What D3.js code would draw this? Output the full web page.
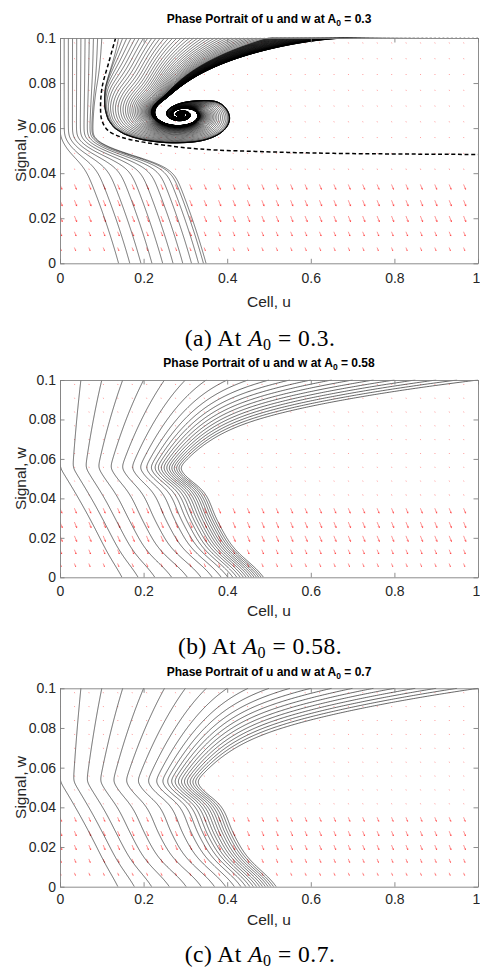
<!DOCTYPE html>
<html>
<head>
<meta charset="utf-8">
<script src="https://cdn.jsdelivr.net/npm/d3@7"></script>
<style>
  html, body { margin: 0; padding: 0; background: #fff; }
  svg { display: block; }
</style>
</head>
<body>
<svg id="fig" width="480" height="972"></svg>
<script>
// ---------------- data ----------------
const a0Values = [0.3, 0.58, 0.7];
const panelLetters = ["a", "b", "c"];
const uTicks = [0, 0.2, 0.4, 0.6, 0.8, 1];
const wTicks = [0, 0.02, 0.04, 0.06, 0.08, 0.1];

// initial cell values on the top edge (w = 0.1)
const startUa = [0, 0.01, 0.02, 0.03, 0.04, 0.05, 0.06, 0.07, 0.08, 0.09, 0.10,
  0.14, 0.15, 0.16, 0.17, 0.18, 0.19, 0.20, 0.21, 0.22, 0.23, 0.24, 0.25, 0.26, 0.27, 0.28, 0.29,
  0.30, 0.31, 0.32, 0.33, 0.34, 0.35, 0.36, 0.37, 0.38, 0.39, 0.40, 0.41, 0.42, 0.43, 0.44, 0.45,
  0.46, 0.47, 0.48, 0.49, 0.50, 0.51, 0.52, 0.53, 0.54, 0.55, 0.56, 0.57, 0.58, 0.59, 0.60, 0.61,
  0.62, 0.63, 0.64, 0.65, 0.66, 0.67, 0.68, 0.69, 0.70, 0.71, 0.72, 0.73, 0.74, 0.75, 0.76, 0.77,
  0.78, 0.79, 0.80, 0.81, 0.82, 0.83, 0.84, 0.85, 0.86, 0.87, 0.88, 0.89, 0.90, 0.91, 0.92, 0.93,
  0.94, 0.95, 0.96, 0.97, 0.98, 0.99, 1.00];
const startUbc = [0, 0.05, 0.10, 0.15, 0.20, 0.25, 0.30, 0.35, 0.40, 0.45, 0.50,
  0.55, 0.60, 0.65, 0.70, 0.75, 0.80, 0.85, 0.90, 0.95, 1.00];

// separatrix of the A0 = 0.3 portrait (dashed)
const sepU = [0.133, 0.116, 0.101, 0.097, 0.100, 0.114, 0.145, 0.195, 0.251, 0.335, 0.494, 0.654, 1.000];
const sepW = [0.1000, 0.0887, 0.0784, 0.0695, 0.0636, 0.0591, 0.0561, 0.0539, 0.0524, 0.0507, 0.0495, 0.0488, 0.0483];

// direction-field grid
const quiverU = [0, 0.0345, 0.0690, 0.1034, 0.1379, 0.1724, 0.2069, 0.2414, 0.2759, 0.3103,
  0.3448, 0.3793, 0.4138, 0.4483, 0.4828, 0.5172, 0.5517, 0.5862, 0.6207, 0.6552, 0.6897,
  0.7241, 0.7586, 0.7931, 0.8276, 0.8621, 0.8966, 0.9310, 0.9655];
const quiverW = [0.007, 0.014, 0.021, 0.028, 0.035, 0.042, 0.049, 0.056, 0.063, 0.070, 0.077, 0.084, 0.091, 0.098];
// drawn arrow components for each grid row
const arrowDuA = [0.0029, 0.0041, 0.0055, 0.0055, 0.0048, 0.0010, 0.0007, 0.0007, 0.0007, 0.0007, 0.0007, 0.0007, 0.0007, 0.0007];
const arrowDwA = [-0.0014, -0.0019, -0.0026, -0.0026, -0.0022, -0.0005, -0.00033, -0.00033, -0.00033, -0.00033, -0.00033, -0.00033, -0.00033, -0.00033];
const arrowDuB = [0.0029, 0.0041, 0.0055, 0.0055, 0.0048, 0.0010, 0.0007, 0.0007, 0.0007, 0.0007, 0.0007, 0.0007, 0.0007, 0.0007];
const arrowDwB = [-0.0016, -0.0022, -0.0029, -0.0029, -0.0025, -0.00057, -0.00038, -0.00038, -0.00038, -0.00038, -0.00038, -0.00038, -0.00038, -0.00038];
const arrowDuC = [0.0024, 0.0033, 0.0045, 0.0045, 0.0039, 0.0009, 0.0006, 0.0006, 0.0006, 0.0006, 0.0006, 0.0006, 0.0006, 0.0006];
const arrowDwC = [-0.0013, -0.0018, -0.0024, -0.0024, -0.0021, -0.00047, -0.00033, -0.00033, -0.00033, -0.00033, -0.00033, -0.00033, -0.00033, -0.00033];

// ---------------- layout ----------------
const layouts = [
  { left: 60, right: 478, top: 38, bottom: 263.3, titleDy: -15.4, tickPad: 10.1, xLabelDy: 43.8, capY: 345.5 },
  { left: 60, right: 478, top: 380, bottom: 577.3, titleDy: -13, tickPad: 8.5, xLabelDy: 38.8, capY: 653.9 },
  { left: 60, right: 478, top: 688.3, bottom: 886.7, titleDy: -12.3, tickPad: 7.7, xLabelDy: 38.7, capY: 962.2 }
];
const SANS = "'Liberation Sans', Arial, Helvetica, sans-serif";
const SERIF = "'Liberation Serif', 'Times New Roman', serif";

// ---------------- model helpers (X = u, Y = w / 0.1) ----------------
const gauss = (v, c, s) => Math.exp(-((v - c) / s) * ((v - c) / s));
const sigm = (v) => 1 / (1 + Math.exp(-v));
const unit = (v) => { const n = Math.hypot(v[0], v[1]) || 1e-12; return [v[0] / n, v[1] / n]; };
const smoothstep = (v, a, b) => { const t = Math.min(1, Math.max(0, (v - a) / (b - a))); return t * t * (3 - 2 * t); };

// --- A0 = 0.3: spiral sink bounded by the separatrix ---
const FOCUS = [0.29, 0.66];
const sepPoly = (() => {
  const pts = sepU.map((u, k) => [u, sepW[k] / 0.1]);
  const n = pts.length;
  const head = [pts[0][0] + (pts[0][0] - pts[1][0]) * 3, pts[0][1] + (pts[0][1] - pts[1][1]) * 3];
  const tail = [pts[n - 1][0] + (pts[n - 1][0] - pts[n - 2][0]) * 3, pts[n - 1][1] + (pts[n - 1][1] - pts[n - 2][1]) * 3];
  return [head, ...pts, tail];
})();
function sepDist(X, Y) {
  let best = Infinity, sgn = 1, tx = 0, ty = -1;
  for (let k = 0; k < sepPoly.length - 1; k++) {
    const ax = sepPoly[k][0], ay = sepPoly[k][1];
    const bx = sepPoly[k + 1][0], by = sepPoly[k + 1][1];
    const ex = bx - ax, ey = by - ay;
    const len2 = ex * ex + ey * ey;
    let t = ((X - ax) * ex + (Y - ay) * ey) / len2;
    t = Math.max(0, Math.min(1, t));
    const qx = ax + t * ex, qy = ay + t * ey;
    const dd = Math.hypot(X - qx, Y - qy);
    if (dd < best) {
      best = dd;
      const l = Math.sqrt(len2);
      tx = ex / l; ty = ey / l;
      sgn = (tx * (Y - qy) - ty * (X - qx)) >= 0 ? 1 : -1;
    }
  }
  return { d: sgn * best, tx, ty };
}
// inward pull relative to counter-clockwise turning, by direction from the focus
function spiralDir(X, Y) {
  const dx = X - FOCUS[0], dy = Y - FOCUS[1];
  const r = Math.hypot(dx, dy) || 1e-9;
  let th = Math.atan2(dy, dx) * 180 / Math.PI;
  if (th < -90) th += 360;
  const sat = 1 - Math.exp(-(r / 0.1) * (r / 0.1));
  const top = 1.6 * sigm((th - 37) / 4) * sigm((118 - th) / 9);
  const lowRight = 0.2 * gauss(th, 300, 45);
  const kap = 0.15 + (top + lowRight) * sat;
  const c = dx / r, s = dy / r;
  return [-s - kap * c, c - kap * s];
}
function downDirA(X, Y) {
  const t = sigm((Y - 0.565) / 0.012);
  const q = X / 0.13;
  const sUp = -0.05 * q * q * q;
  const sLo = 0.15 + 0.18 * Y + 9 * X * gauss(Y, 0.5, 0.07);
  return [t * sUp + (1 - t) * sLo, -1];
}
function fieldA(X, Y) {
  const sd = sepDist(X, Y);
  const wIn = sigm(sd.d / 0.005);
  const a = unit(spiralDir(X, Y)), b = unit(downDirA(X, Y));
  let vx = wIn * a[0] + (1 - wIn) * b[0];
  let vy = wIn * a[1] + (1 - wIn) * b[1];
  const ad = Math.abs(sd.d);
  const fol = sd.d > 0 ? 1.2 * Math.exp(-ad / 0.03) : 0.2 * Math.exp(-ad / 0.01);
  const push = (sd.d > 0 ? 0.6 * Math.exp(-ad / 0.007) : 0.2 * Math.exp(-ad / 0.01)) * Math.sign(sd.d);
  vx += fol * sd.tx - push * sd.ty;
  vy += fol * sd.ty + push * sd.tx;
  return unit([vx, vy]);
}
function traceA(u0) {
  let X = u0, Y = 1;
  const pts = [[X, Y * 0.1]];
  const h = 0.0015;
  for (let k = 0; k < 8000; k++) {
    const k1 = fieldA(X, Y);
    const k2 = fieldA(X + h / 2 * k1[0], Y + h / 2 * k1[1]);
    const k3 = fieldA(X + h / 2 * k2[0], Y + h / 2 * k2[1]);
    const k4 = fieldA(X + h * k3[0], Y + h * k3[1]);
    X += h / 6 * (k1[0] + 2 * k2[0] + 2 * k3[0] + k4[0]);
    Y += h / 6 * (k1[1] + 2 * k2[1] + 2 * k3[1] + k4[1]);
    if (X < 0) X = 0;
    if (k % 2 === 1) pts.push([X, Y * 0.1]);
    if (Y < -0.01 || Y > 1.8 || X > 1.8) break;
    if (Math.hypot(X - FOCUS[0], Y - FOCUS[1]) < 0.004) break;
  }
  pts.push([X, Y * 0.1]);
  return pts;
}

// --- A0 = 0.58, 0.7: no interior equilibrium, every orbit runs down to w = 0 ---
const modelB = { yk: 0.555, c: 1.1, gAmp: 2.5, gMid: 0.4, s0: 0.2, shoulder: 0.3, dip: 0.08, tail: 0.32 };
const modelC = { yk: 0.53, c: 0.95, gAmp: 2.4, gMid: 0.44, s0: 0.2, shoulder: 0.3, dip: 0.08, tail: 0.3 };
function slopeBC(X, Y, p) {
  const g = X * (1 + p.gAmp * sigm((X - p.gMid) / 0.06));
  const sUp = -p.c * g;
  const a = smoothstep(X, 0.05, 0.3);
  const sLo = p.s0 + 0.18 * Y + a * (p.shoulder * gauss(Y, p.yk - 0.075, 0.05)
    - p.dip * gauss(Y, p.yk - 0.2, 0.06) + p.tail * gauss(Y, 0.08, 0.09));
  const t = sigm((Y - p.yk) / 0.01);
  return t * sUp + (1 - t) * sLo;
}
function traceBC(u0, p) {
  let X = u0, Y = 1;
  const pts = [[X, 0.1]];
  const h = 0.002;
  while (Y > 0) {
    const k1 = slopeBC(X, Y, p);
    const k2 = slopeBC(X + h / 2 * k1, Y - h / 2, p);
    const k3 = slopeBC(X + h / 2 * k2, Y - h / 2, p);
    const k4 = slopeBC(X + h * k3, Y - h, p);
    X += h / 6 * (k1 + 2 * k2 + 2 * k3 + k4);
    Y -= h;
    if (X < 0) X = 0;
    pts.push([X, Y * 0.1]);
  }
  return pts;
}

// ---------------- drawing ----------------
const svg = d3.select("#fig");
const defs = svg.append("defs");

function arrowPath(x1, y1, x2, y2) {
  let dx = x2 - x1, dy = y2 - y1;
  let len = Math.hypot(dx, dy);
  if (len < 1) { const f = 1 / (len || 1); dx *= f; dy *= f; x2 = x1 + dx; y2 = y1 + dy; len = 1; }
  let d = `M${x1.toFixed(2)},${y1.toFixed(2)}L${x2.toFixed(2)},${y2.toFixed(2)}`;
  if (len > 2.5) {
    const hl = 0.3 * len, ang = Math.atan2(dy, dx);
    for (const s of [-1, 1]) {
      const a = ang + Math.PI + s * 0.4;
      d += `M${x2.toFixed(2)},${y2.toFixed(2)}L${(x2 + hl * Math.cos(a)).toFixed(2)},${(y2 + hl * Math.sin(a)).toFixed(2)}`;
    }
  }
  return d;
}

function drawPanel(idx, cfg) {
  const L = layouts[idx];
  const x = d3.scaleLinear().domain([0, 1]).range([L.left, L.right]);
  const y = d3.scaleLinear().domain([0, 0.1]).range([L.bottom, L.top]);
  const clipId = "plotclip" + idx;
  defs.append("clipPath").attr("id", clipId).append("rect")
    .attr("x", L.left).attr("y", L.top - 0.5)
    .attr("width", L.right - L.left).attr("height", L.bottom - L.top + 0.5);

  const body = svg.append("g").attr("clip-path", `url(#${clipId})`);

  // direction field
  const arrows = [];
  quiverW.forEach((w, r) => quiverU.forEach(u => arrows.push({ u, w, du: cfg.du[r], dw: cfg.dw[r] })));
  body.append("g").selectAll("path").data(arrows).join("path")
    .attr("d", a => arrowPath(x(a.u), y(a.w), x(a.u + a.du), y(a.w + a.dw)))
    .attr("fill", "none").attr("stroke", "#ff0000")
    .attr("stroke-width", 0.65).attr("stroke-opacity", 0.65);

  // trajectories
  const line = d3.line().x(d => x(d[0])).y(d => y(d[1]));
  body.append("g").selectAll("path").data(cfg.paths).join("path")
    .attr("d", line).attr("fill", "none")
    .attr("stroke", "#000").attr("stroke-width", cfg.lw);

  if (cfg.sep) {
    const sline = d3.line().x((d, k) => x(sepU[k])).y((d, k) => y(sepW[k])).curve(d3.curveCatmullRom);
    body.append("path").datum(sepU).attr("d", sline)
      .attr("fill", "none").attr("stroke", "#000")
      .attr("stroke-width", 1.5).attr("stroke-dasharray", "4,2.6");
  }

  // box with inward ticks
  const fmt = d3.format("~g");
  const axes = [
    [d3.axisBottom(x).tickValues(uTicks).tickFormat(fmt).tickPadding(L.tickPad), `translate(0,${L.bottom})`],
    [d3.axisTop(x).tickValues(uTicks).tickFormat(() => ""), `translate(0,${L.top})`],
    [d3.axisLeft(y).tickValues(wTicks).tickFormat(fmt).tickPadding(4), `translate(${L.left},0)`],
    [d3.axisRight(y).tickValues(wTicks).tickFormat(() => ""), `translate(${L.right},0)`]
  ];
  axes.forEach(([ax, tr], k) => {
    const g = svg.append("g").attr("transform", tr)
      .call(ax.tickSizeInner(-4.5).tickSizeOuter(0));
    g.select(".domain").attr("stroke", "#808080").attr("stroke-width", 0.9);
    g.selectAll(".tick line").attr("stroke", "#808080").attr("stroke-width", 0.9);
    g.selectAll(".tick text").attr("fill", "#262626")
      .attr("font-family", SANS).attr("font-size", 14);
    if (k === 0) {
      // last label sits on the right edge of the figure
      g.selectAll(".tick text").filter(d => d === 1)
        .attr("text-anchor", "end").attr("x", 1.8);
    }
  });

  // axis titles
  svg.append("text").attr("x", (L.left + L.right) / 2).attr("y", L.bottom + L.xLabelDy)
    .attr("text-anchor", "middle").attr("font-family", SANS).attr("font-size", 15.5)
    .attr("fill", "#262626").text("Cell, u");
  svg.append("text")
    .attr("transform", `translate(25.5,${(L.top + L.bottom) / 2}) rotate(-90)`)
    .attr("text-anchor", "middle").attr("font-family", SANS).attr("font-size", 15.5)
    .attr("fill", "#262626").text("Signal, w");

  // panel title
  const a0 = String(a0Values[idx]);
  const t = svg.append("text").attr("x", 269).attr("y", L.top + L.titleDy)
    .attr("text-anchor", "middle").attr("font-family", SANS)
    .attr("font-weight", "bold").attr("font-size", 12).attr("fill", "#000");
  t.append("tspan").text("Phase Portrait of u and w at A");
  t.append("tspan").attr("font-size", 8.5).attr("dy", 3).text("0");
  t.append("tspan").attr("dy", -3).text(" = " + a0);

  // caption
  const c = svg.append("text").attr("x", 260).attr("y", L.capY)
    .attr("text-anchor", "middle").attr("font-family", SERIF)
    .attr("font-size", 23.5).attr("letter-spacing", 0.5).attr("fill", "#000");
  c.append("tspan").text(`(${panelLetters[idx]}) At `);
  c.append("tspan").attr("font-style", "italic").text("A");
  c.append("tspan").attr("font-size", 16).attr("dy", 4).text("0");
  c.append("tspan").attr("dy", -4).text(" = " + a0 + ".");
}

const pathsA = startUa.map(traceA);
const pathsB = startUbc.map(u => traceBC(u, modelB));
const pathsC = startUbc.map(u => traceBC(u, modelC));

drawPanel(0, { paths: pathsA, du: arrowDuA, dw: arrowDwA, sep: true, lw: 0.55 });
drawPanel(1, { paths: pathsB, du: arrowDuB, dw: arrowDwB, sep: false, lw: 0.6 });
drawPanel(2, { paths: pathsC, du: arrowDuC, dw: arrowDwC, sep: false, lw: 0.6 });
</script>
</body>
</html>
